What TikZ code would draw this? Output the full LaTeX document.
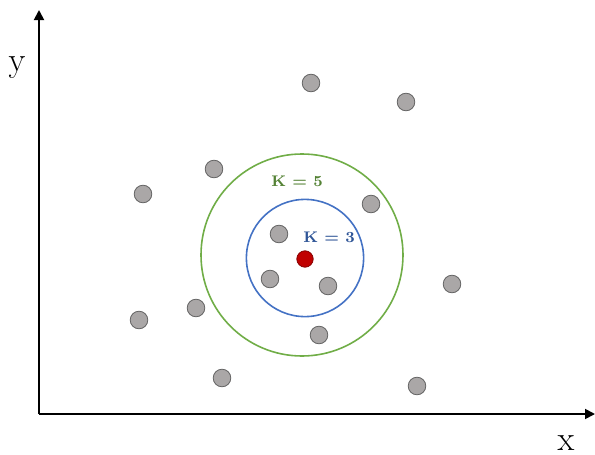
\documentclass[tikz,border=0pt]{standalone}
\usetikzlibrary{arrows.meta}
\definecolor{kgreen}{RGB}{112,173,71}
\definecolor{kgreentext}{RGB}{84,130,53}
\definecolor{kblue}{RGB}{68,114,196}
\definecolor{kbluetext}{RGB}{47,85,151}
\definecolor{kred}{RGB}{192,0,0}
\definecolor{dotfill}{RGB}{170,167,167}
\definecolor{dotline}{RGB}{100,100,100}
\tikzset{
  pt/.style={circle,fill=dotfill,draw=dotline,line width=0.4pt,minimum size=8.8pt,inner sep=0pt},
  query/.style={circle,fill=kred,draw=kred!70!black,line width=0.4pt,minimum size=8.2pt,inner sep=0pt},
  axis/.style={line width=0.9pt,-{Triangle[length=5pt,width=5pt]}},
  axlabel/.style={font=\LARGE},
  klabel/.style={font=\fontsize{7.7}{9}\selectfont\bfseries}
}
\begin{document}
\begin{tikzpicture}[x=0.5pt,y=-0.5pt]
\useasboundingbox (0,0) rectangle (595,455);
% axes
\coordinate (o) at (39,414);
\coordinate (ytop) at (39,10);
\coordinate (xend) at (595,414);
\draw[axis] (o) -- (ytop);
\draw[axis] (o) -- (xend);
\node[axlabel] (ylab) at (17,68) {y};
\node[axlabel] (xlab) at (566,443) {x};
% neighbourhood circles
\draw[kgreen,line width=0.8pt] (302,255) circle[radius=50.5pt];
\draw[kblue,line width=0.8pt] (305,258) circle[radius=29.3pt];
\node[klabel,text=kgreentext] (k5) at (297,181) {K = 5};
\node[klabel,text=kbluetext] (k3) at (329,237) {K = 3};
% points
\node[pt] (p1) at (311,83) {};
\node[pt] (p2) at (406,102) {};
\node[pt] (p3) at (214,169) {};
\node[pt] (p4) at (143,194) {};
\node[pt] (p5) at (371,204) {};
\node[pt] (p6) at (279,234) {};
\node[pt] (p7) at (270,279) {};
\node[pt] (p8) at (328,286) {};
\node[pt] (p9) at (452,284) {};
\node[pt] (p10) at (196,308) {};
\node[pt] (p11) at (139,320) {};
\node[pt] (p12) at (319,335) {};
\node[pt] (p13) at (222,378) {};
\node[pt] (p14) at (417,386) {};
\node[query] (q) at (305,259) {};
\end{tikzpicture}
\end{document}
